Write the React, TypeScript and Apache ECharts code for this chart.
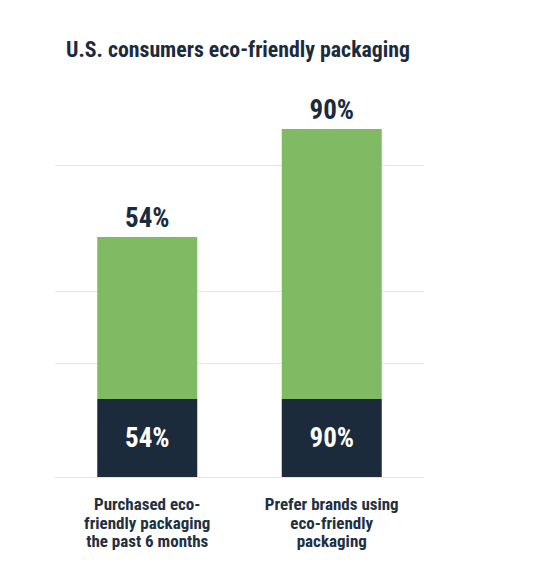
import React, { useEffect, useRef } from "react";
import * as echarts from "echarts";

const title = "U.S. consumers eco-friendly packaging";
const categories = [
  "Purchased eco-\nfriendly packaging\nthe past 6 months",
  "Prefer brands using\neco-friendly\npackaging",
];
const shares = [54, 90];
const baseBand = [26, 26];
const gridValues = [38, 62, 104];

const NAVY = "#1b2b3c";
const GREEN = "#80bb63";
const FONT = "'Liberation Sans Narrow', 'Roboto Condensed', 'Arial Narrow', Roboto, sans-serif";

export default function App() {
  const ref = useRef<HTMLDivElement>(null);
  useEffect(() => {
    if (!ref.current) return;
    const chart = echarts.init(ref.current, null, { renderer: "svg" });
    chart.setOption({
      animation: false,
      backgroundColor: "#ffffff",
      title: {
        text: title,
        left: 61,
        top: 33,
        textStyle: { fontFamily: FONT, fontSize: 21.8, fontWeight: "bold", color: NAVY },
      },
      grid: { left: 55, right: 130, top: 129, bottom: 102, containLabel: false },
      xAxis: {
        type: "category",
        data: categories,
        axisLine: { show: true, lineStyle: { color: "#e4e4e4", width: 1 } },
        axisTick: { show: false },
        axisLabel: {
          interval: 0,
          margin: 18,
          fontFamily: FONT,
          fontSize: 17,
          fontWeight: "bold",
          lineHeight: 18.5,
          color: "#22303f",
          align: "center",
        },
      },
      yAxis: {
        type: "value",
        min: 0,
        max: 116,
        show: false,
        splitLine: { show: false },
      },
      series: [
        {
          type: "bar",
          stack: "total",
          data: baseBand.map((b, i) => ({ value: b, share: shares[i] })),
          barWidth: 100,
          clip: false,
          itemStyle: { color: NAVY },
          label: {
            show: true,
            position: "inside",
            formatter: (p: any) => `${shares[p.dataIndex]}%`,
            fontFamily: FONT,
            fontSize: 27,
            fontWeight: "bold",
            color: "#ffffff",
          },
          markLine: {
            silent: true,
            symbol: "none",
            label: { show: false },
            lineStyle: { color: "#e6e6e6", width: 1, type: "solid" },
            data: gridValues.map((v) => ({ yAxis: v })),
            z: 0,
          },
          z: 3,
        },
        {
          type: "bar",
          stack: "total",
          data: shares,
          barWidth: 100,
          clip: false,
          itemStyle: { color: GREEN },
          label: {
            show: true,
            position: "top",
            distance: 6,
            formatter: (p: any) => `${p.value}%`,
            fontFamily: FONT,
            fontSize: 27,
            fontWeight: "bold",
            color: NAVY,
          },
          z: 3,
        },
      ],
    });
    return () => chart.dispose();
  }, []);
  return (
    <div
      ref={ref}
      style={{ position: "fixed", left: 0, top: 0, width: 554, height: 579, background: "#fff" }}
    />
  );
}
